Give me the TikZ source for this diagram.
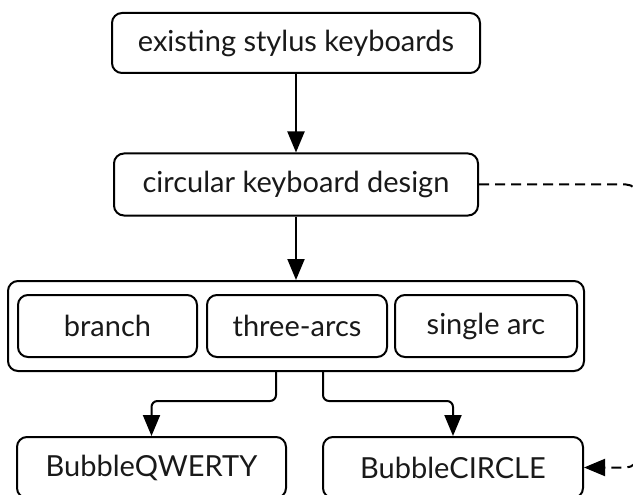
\documentclass[tikz,border=0pt]{standalone}
\usepackage{fontspec}
\setmainfont{Lato}
\usetikzlibrary{arrows.meta,calc}
\begin{document}
\begin{tikzpicture}[x=1pt,y=-1pt,
  box/.style={draw, line width=2pt, rounded corners=10pt, inner sep=0pt,
    font=\fontsize{29}{33}\selectfont, text=black!90},
  arr/.style={line width=2pt, -{Triangle[length=21pt,width=17pt]}},
  dsh/.style={line width=2pt, dash pattern=on 10pt off 6pt, -{Triangle[length=21pt,width=17pt]}}]
\useasboundingbox (0,0) rectangle (633,495);
\clip (0,0) rectangle (633,495);
\node[box, minimum width=368pt, minimum height=60pt] (top) at (296,43) {existing stylus keyboards};
\node[box, minimum width=364pt, minimum height=62pt] (circ) at (296,184.5) {circular keyboard design};
\node[box, minimum width=576pt, minimum height=90pt] (cont) at (296,326) {};
\node[box, minimum width=179pt, minimum height=62pt] (br) at (107.5,326) {branch};
\node[box, minimum width=180pt, minimum height=62pt] (ta) at (297,326) {three-arcs};
\node[box, minimum width=182pt, minimum height=62pt] (sa) at (486,326) {single arc};
\node[box, minimum width=269pt, minimum height=61pt] (bq) at (151.5,467.5) {BubbleQWERTY};
\node[box, minimum width=260pt, minimum height=61pt] (bc) at (453,467.5) {BubbleCIRCLE};
\draw[arr] (top.south) -- (circ.north);
\draw[arr] (circ.south) -- (cont.north);
\draw[arr, rounded corners=6pt] ([xshift=-20pt]cont.south) -- ++(0,29) -| (bq.north);
\draw[arr, rounded corners=6pt] ([xshift=27pt]cont.south) -- ++(0,29) -| (bc.north);
\coordinate (r1) at (638,184.5);
\draw[dsh, rounded corners=12pt] (circ.east) -- (r1) |- (bc.east);
\end{tikzpicture}
\end{document}
